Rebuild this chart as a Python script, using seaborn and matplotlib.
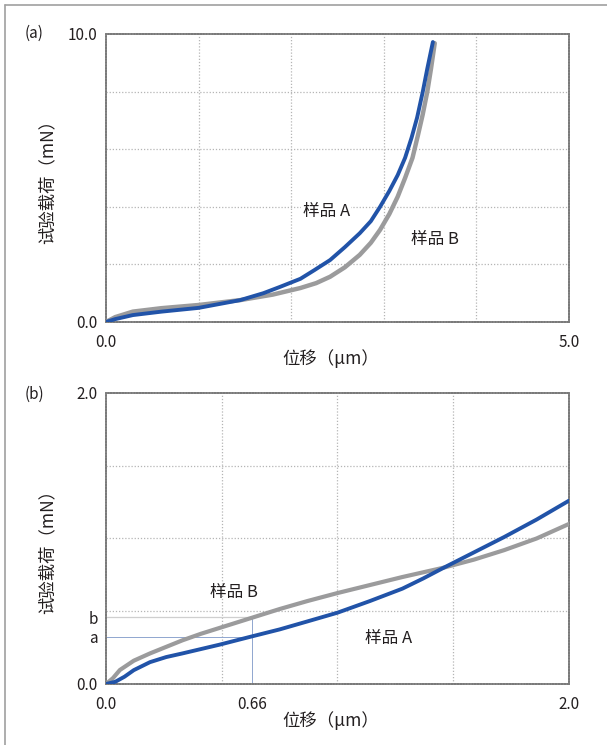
import matplotlib
matplotlib.use("Agg")
import matplotlib.pyplot as plt
from matplotlib.lines import Line2D
import seaborn as sns
import pandas as pd

sns.set_theme(style="white")
plt.rcParams['font.family'] = ['Noto Sans CJK SC', 'DejaVu Sans']

# ---------------- data ----------------
# panel (a)
a_x_A = [0.0, 0.1, 0.29, 0.6, 1.0, 1.45, 1.7, 1.88, 2.1, 2.25, 2.42, 2.58, 2.74, 2.86, 2.96,
         3.06, 3.15, 3.23, 3.30, 3.36, 3.42, 3.47, 3.53]
a_y_A = [0.0, 0.1, 0.24, 0.36, 0.49, 0.76, 1.0, 1.22, 1.5, 1.8, 2.15, 2.6, 3.08, 3.5, 4.0,
         4.55, 5.1, 5.7, 6.4, 7.1, 7.98, 8.8, 9.72]
a_x_B = [0.0, 0.1, 0.29, 0.6, 1.0, 1.45, 1.8, 2.1, 2.27, 2.42, 2.58, 2.74, 2.86, 2.96, 3.06,
         3.15, 3.23, 3.31, 3.37, 3.42, 3.47, 3.51, 3.55]
a_y_B = [0.0, 0.17, 0.36, 0.48, 0.59, 0.76, 0.95, 1.18, 1.35, 1.57, 1.9, 2.33, 2.75, 3.2, 3.75,
         4.35, 5.0, 5.7, 6.5, 7.2, 8.0, 8.8, 9.68]

# panel (b)
b_x_A = [0.0, 0.04, 0.08, 0.12, 0.19, 0.26, 0.33, 0.41, 0.49, 0.62, 0.75, 0.87, 1.0, 1.14,
         1.28, 1.37, 1.46, 1.59, 1.72, 1.86, 2.0]
b_y_A = [0.0, 0.015, 0.05, 0.095, 0.15, 0.185, 0.21, 0.24, 0.27, 0.323, 0.375, 0.43, 0.49, 0.57,
         0.655, 0.725, 0.80, 0.905, 1.01, 1.13, 1.26]
b_x_B = [0.0, 0.03, 0.06, 0.12, 0.19, 0.26, 0.33, 0.41, 0.49, 0.62, 0.75, 0.87, 1.0, 1.14,
         1.28, 1.46, 1.59, 1.72, 1.86, 2.0]
b_y_B = [0.0, 0.04, 0.096, 0.16, 0.21, 0.255, 0.30, 0.345, 0.385, 0.45, 0.515, 0.57, 0.625, 0.68,
         0.735, 0.80, 0.855, 0.92, 1.0, 1.10]

mark_x = 0.63      # position of the 0.66 marker line
mark_a = 0.323     # load a (sample A)
mark_b = 0.46      # load b (sample B)

a_xticks = [0.0, 5.0]
a_xticklabels = ["0.0", "5.0"]
a_yticks = [0.0, 10.0]
a_yticklabels = ["0.0", "10.0"]
b_xticks = [0.0, mark_x, 2.0]
b_xticklabels = ["0.0", "0.66", "2.0"]
b_yticks = [0.0, mark_a, mark_b, 2.0]
b_yticklabels = ["0.0", "a", "b", "2.0"]

labels = ["样品 A", "样品 B"]
xlabel = "位移（μm）"
ylabel = "试验载荷（mN）"

BLUE = "#2153a8"
GRAY = "#9b9b9c"
TXT = "#231f20"

fig = plt.figure(figsize=(6.07, 7.45), dpi=100)
axa = fig.add_axes([0.1746, 0.5678, 0.7628, 0.3866])
axb = fig.add_axes([0.1746, 0.0819, 0.7628, 0.3906])

LINE_KW = dict(solid_capstyle="round", solid_joinstyle="round", sort=False)

def style(ax, xlim, ylim, xg, yg):
    ax.set_xlim(*xlim)
    ax.set_ylim(*ylim)
    for v in xg:
        ax.axvline(v, color="#b5b5b5", lw=0.9, ls=(0, (1, 1.5)), zorder=0)
    for v in yg:
        ax.axhline(v, color="#b5b5b5", lw=0.9, ls=(0, (1, 1.5)), zorder=0)
    for s in ax.spines.values():
        s.set_color("#7a7a7a")
        s.set_linewidth(1.3)
        s.set_linestyle((0, (1, 0.6)))
    ax.tick_params(axis="both", length=0, labelsize=11, labelcolor=TXT)
    ax.tick_params(axis="x", pad=9)
    ax.tick_params(axis="y", pad=6)

# panel (a)
style(axa, (0, 5), (0, 10), [1, 2, 3, 4], [2, 4, 6, 8])
dfa_B = pd.DataFrame({"x": a_x_B, "y": a_y_B})
dfa_A = pd.DataFrame({"x": a_x_A, "y": a_y_A})
sns.lineplot(data=dfa_B, x="x", y="y", ax=axa, color=GRAY, lw=3.2, zorder=3, **LINE_KW)
sns.lineplot(data=dfa_A, x="x", y="y", ax=axa, color=BLUE, lw=2.8, zorder=4, **LINE_KW)
axa.set_xticks(a_xticks, a_xticklabels)
axa.set_yticks(a_yticks, a_yticklabels)
axa.set_xlabel(xlabel, fontsize=12.5, color=TXT)
axa.set_ylabel(ylabel, fontsize=12.5, color=TXT)
axa.xaxis.set_label_coords(0.485, -0.095)
axa.yaxis.set_label_coords(-0.108, 0.5)
axa.text(2.38, 3.82, labels[0], fontsize=12, color=TXT, ha="center", va="center",
         bbox=dict(facecolor="white", edgecolor="none", pad=1), zorder=5)
axa.text(3.55, 2.88, labels[1], fontsize=12, color=TXT, ha="center", va="center",
         bbox=dict(facecolor="white", edgecolor="none", pad=1), zorder=5)

# panel (b)
style(axb, (0, 2), (0, 2), [0.5, 1.0, 1.5], [0.5, 1.0, 1.5])
axb.plot([0, mark_x], [mark_a, mark_a], color="#8fa6cf", lw=0.7, zorder=1)
axb.plot([0, mark_x], [mark_b, mark_b], color="#cfcfcf", lw=0.9, zorder=1)
axb.plot([mark_x, mark_x], [0, mark_b], color="#8fa6cf", lw=0.7, zorder=1)
dfb_B = pd.DataFrame({"x": b_x_B, "y": b_y_B})
dfb_A = pd.DataFrame({"x": b_x_A, "y": b_y_A})
sns.lineplot(data=dfb_B, x="x", y="y", ax=axb, color=GRAY, lw=3.0, zorder=3, **LINE_KW)
sns.lineplot(data=dfb_A, x="x", y="y", ax=axb, color=BLUE, lw=2.8, zorder=4, **LINE_KW)
axb.set_xticks(b_xticks, b_xticklabels)
axb.set_yticks(b_yticks, b_yticklabels)
axb.set_xlabel(xlabel, fontsize=12.5, color=TXT)
axb.set_ylabel(ylabel, fontsize=12.5, color=TXT)
axb.xaxis.set_label_coords(0.485, -0.095)
axb.yaxis.set_label_coords(-0.108, 0.47)
axb.text(0.553, 0.63, labels[1], fontsize=12, color=TXT, ha="center", va="center", zorder=5)
axb.text(1.22, 0.316, labels[0], fontsize=12, color=TXT, ha="center", va="center", zorder=5)

# panel tags
fig.text(25 / 607, 1 - 33 / 745, "(a)", fontsize=11, color=TXT, ha="left", va="center")
fig.text(25 / 607, 1 - 394 / 745, "(b)", fontsize=11, color=TXT, ha="left", va="center")

# partial figure frame (top and left)
fig.add_artist(Line2D([5 / 607, 1.0], [1 - 5 / 745, 1 - 5 / 745], color="#a0a0a0", lw=1.2,
                      transform=fig.transFigure))
fig.add_artist(Line2D([5 / 607, 5 / 607], [1 - 5 / 745, 0.0], color="#a0a0a0", lw=1.2,
                      transform=fig.transFigure))

fig.savefig("out.png", dpi=100)
